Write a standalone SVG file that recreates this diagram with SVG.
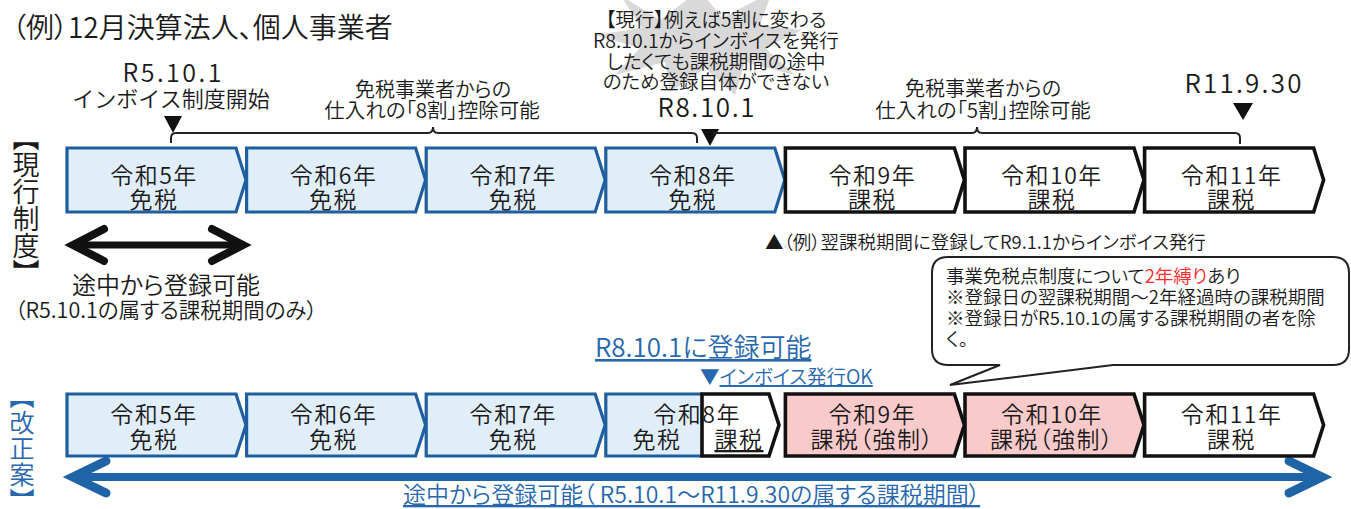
<svg xmlns="http://www.w3.org/2000/svg" width="1351" height="509" viewBox="0 0 1351 509">
<style>
text{font-family:"Noto Sans CJK JP","Noto Sans",sans-serif;fill:#1a1a1a;font-feature-settings:"palt" 1;font-weight:350;}
.c{text-anchor:middle;}
.blue{fill:#2767ad;}
.bx{fill:#e0eefa;stroke:#1f5f9f;stroke-width:3.2;stroke-linejoin:miter;}
.bk{fill:#ffffff;stroke:#111;stroke-width:3.6;stroke-linejoin:miter;}
.pk{fill:#f8caca;stroke:#111;stroke-width:3.6;stroke-linejoin:miter;}
.yr{font-size:23px;letter-spacing:1.5px;}
.br{fill:none;stroke:#222;stroke-width:2;}
.u{text-decoration:underline;}
</style>
<rect width="1351" height="509" fill="#ffffff"/>
<polygon id="burst" points="620,-5 660,20 700,-10 722,18 772,-8 760,25 802,30 765,48 795,75 745,62 735,95 705,68 670,92 665,62 615,75 640,48 595,35 642,28" fill="#d9d9d9"/>
<text x="12" y="38" font-size="28">（例）12月決算法人、個人事業者</text>
<text x="26" y="124" font-size="27" style="writing-mode:vertical-rl">【現行制度】</text>
<text x="22" y="384" font-size="25" class="blue" style="writing-mode:vertical-rl;letter-spacing:1px">【改正案】</text>
<g id="labels-top">
<text font-size="22" class="c"><tspan x="172" y="82" font-size="25" textLength="99" lengthAdjust="spacing">R5.10.1</tspan><tspan x="171" y="107" style="font-feature-settings:normal">インボイス制度開始</tspan></text>
<text font-size="20" class="c"><tspan x="433" y="97">免税事業者からの</tspan><tspan x="432" y="118" font-size="20.5">仕入れの「8割」控除可能</tspan></text>
<text font-size="19.5" class="c"><tspan x="716" y="27">【現行】例えば5割に変わる</tspan><tspan x="716" y="48">R8.10.1からインボイスを発行</tspan><tspan x="716" y="69">したくても課税期間の途中</tspan><tspan x="716" y="89">のため登録自体ができない</tspan><tspan x="706" y="117" font-size="26" textLength="97" lengthAdjust="spacing">R8.10.1</tspan></text>
<text font-size="20" class="c"><tspan x="983" y="96">免税事業者からの</tspan><tspan x="983" y="118" font-size="20.5">仕入れの「5割」控除可能</tspan></text>
<text x="1243" y="93" font-size="26" class="c" textLength="117" lengthAdjust="spacing">R11.9.30</text>
</g>
<g id="connectors">
<polygon points="164,116 182,116 173,133" fill="#111"/>
<polygon points="701,129 719,129 710,146" fill="#111"/>
<polygon points="1233,103 1253,103 1243,120" fill="#111"/>
<path class="br" d="M171,143 V138 Q171,133 176,133 H428 Q433,133 433,127 Q433,133 438,133 H692 Q697,133 697,138 V143"/>
<path class="br" d="M713,133 H972 Q977,133 977,127 Q977,133 982,133 H1235 Q1240,133 1240,138 V144"/>
<path d="M76,245 H240" stroke="#111" stroke-width="7" fill="none"/>
<polyline points="104,229 73,245 104,261" fill="none" stroke="#111" stroke-width="8" stroke-linecap="round" stroke-linejoin="miter"/>
<polyline points="212,229 243,245 212,261" fill="none" stroke="#111" stroke-width="8" stroke-linecap="round" stroke-linejoin="miter"/>
<path d="M76,477 H1318" stroke="#2064a8" stroke-width="8" fill="none"/>
<polyline points="106,461 73,477 106,493" fill="none" stroke="#2064a8" stroke-width="9" stroke-linecap="round"/>
<polyline points="1289,461 1322,477 1289,493" fill="none" stroke="#2064a8" stroke-width="9" stroke-linecap="round"/>
</g>
<g id="row-current">
<g id="c5"><path class="bx" d="M67,148 H236 L246,180 L236,212 H67 Z"/><text class="c yr"><tspan x="154" y="184">令和5年</tspan><tspan x="154" y="208">免税</tspan></text></g>
<g id="c6"><path class="bx" d="M246.6,148 H415.6 L425.6,180 L415.6,212 H246.6 Z"/><text class="c yr"><tspan x="333.6" y="184">令和6年</tspan><tspan x="333.6" y="208">免税</tspan></text></g>
<g id="c7"><path class="bx" d="M426.2,148 H595.2 L605.2,180 L595.2,212 H426.2 Z"/><text class="c yr"><tspan x="513.2" y="184">令和7年</tspan><tspan x="513.2" y="208">免税</tspan></text></g>
<g id="c8"><path class="bx" d="M605.8,148 H774.8 L784.8,180 L774.8,212 H605.8 Z"/><text class="c yr"><tspan x="692.8" y="184">令和8年</tspan><tspan x="692.8" y="208">免税</tspan></text></g>
<g id="c9"><path class="bk" d="M785.4,148 H954.4 L964.4,180 L954.4,212 H785.4 Z"/><text class="c yr"><tspan x="872.4" y="184">令和9年</tspan><tspan x="872.4" y="208">課税</tspan></text></g>
<g id="c10"><path class="bk" d="M965,148 H1134 L1144,180 L1134,212 H965 Z"/><text class="c yr"><tspan x="1052" y="184">令和10年</tspan><tspan x="1052" y="208">課税</tspan></text></g>
<g id="c11"><path class="bk" d="M1144.6,148 H1313.6 L1323.6,180 L1313.6,212 H1144.6 Z"/><text class="c yr"><tspan x="1231.6" y="184">令和11年</tspan><tspan x="1231.6" y="208">課税</tspan></text></g>
</g>
<text x="765" y="249" font-size="18.5">▲（例）翌課税期間に登録してR9.1.1からインボイス発行</text>
<text font-size="24" class="c"><tspan x="166" y="294">途中から登録可能</tspan><tspan x="166" y="318" font-size="21.5">（R5.10.1の属する課税期間のみ）</tspan></text>
<g id="callout">
<path d="M948,257 H1333 Q1349,257 1349,273 V349 Q1349,365 1333,365 H1113 L950,385 L1000,365 H948 Q932,365 932,349 V273 Q932,257 948,257 Z" fill="#fff" stroke="#222" stroke-width="2"/>
<text font-size="18.5"><tspan x="946" y="283">事業免税点制度について</tspan><tspan fill="#ff2a2a">2年縛り</tspan><tspan>あり</tspan><tspan x="946" y="304">※登録日の翌課税期間～2年経過時の課税期間</tspan><tspan x="946" y="325">※登録日がR5.10.1の属する課税期間の者を除</tspan><tspan x="946" y="346">く。</tspan></text>
</g>
<text font-size="26" class="blue"><tspan x="595" y="357" class="u">R8.10.1に登録可能</tspan><tspan x="700" y="384" font-size="19.5">▼</tspan><tspan font-size="19.5" class="u">インボイス発行OK</tspan></text>
<g id="row-reform">
<g id="r5"><path class="bx" d="M67,394 H236 L246,425 L236,456 H67 Z"/><text class="c yr"><tspan x="154" y="423">令和5年</tspan><tspan x="154" y="448">免税</tspan></text></g>
<g id="r6"><path class="bx" d="M246.6,394 H415.6 L425.6,425 L415.6,456 H246.6 Z"/><text class="c yr"><tspan x="333.6" y="423">令和6年</tspan><tspan x="333.6" y="448">免税</tspan></text></g>
<g id="r7"><path class="bx" d="M426.2,394 H595.2 L605.2,425 L595.2,456 H426.2 Z"/><text class="c yr"><tspan x="513.2" y="423">令和7年</tspan><tspan x="513.2" y="448">免税</tspan></text></g>
<g id="r8">
<path class="bx" d="M702,394 H605.8 V456 H702"/>
<path class="bk" d="M702,394 H769 L779,425 L769,456 H702 Z"/>
<text class="yr"><tspan x="741" y="423" text-anchor="end">令和8年</tspan><tspan x="657" y="448" text-anchor="middle">免税</tspan><tspan x="739" y="448" text-anchor="middle" class="u">課税</tspan></text>
</g>
<g id="r9"><path class="pk" d="M785.4,394 H954.4 L964.4,425 L954.4,456 H785.4 Z"/><text class="c yr"><tspan x="872.4" y="423">令和9年</tspan><tspan x="872.4" y="448">課税（強制）</tspan></text></g>
<g id="r10"><path class="pk" d="M965,394 H1134 L1144,425 L1134,456 H965 Z"/><text class="c yr"><tspan x="1052" y="423">令和10年</tspan><tspan x="1052" y="448">課税（強制）</tspan></text></g>
<g id="r11"><path class="bk" d="M1144.6,394 H1313.6 L1323.6,425 L1313.6,456 H1144.6 Z"/><text class="c yr"><tspan x="1231.6" y="423">令和11年</tspan><tspan x="1231.6" y="448">課税</tspan></text></g>
</g>
<text x="403" y="503" font-size="23" class="blue u">途中から登録可能（ R5.10.1～R11.9.30の属する課税期間）</text>
</svg>
